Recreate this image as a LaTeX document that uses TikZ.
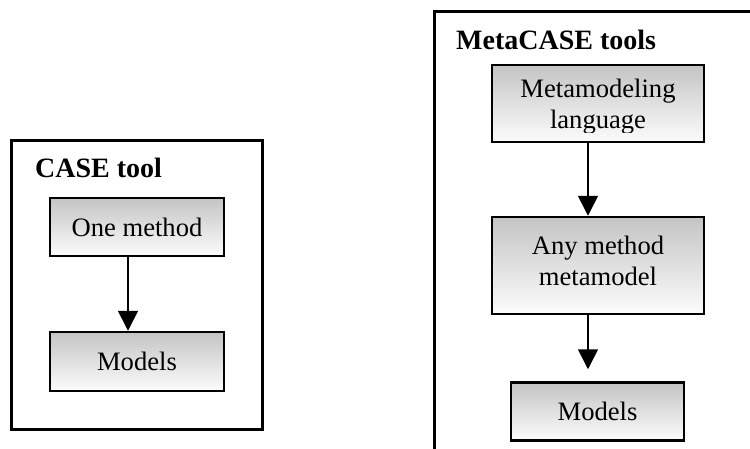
\documentclass[tikz,border=0pt]{standalone}
\usepackage{fontspec}
\setmainfont{Liberation Serif}
\usetikzlibrary{arrows.meta}
\definecolor{boxtop}{RGB}{196,196,196}
\definecolor{boxbot}{RGB}{252,252,252}
\begin{document}
\begin{tikzpicture}[x=1pt,y=-1pt,
  frame/.style={draw=black, line width=3pt, inner sep=0pt},
  box/.style={draw=black, line width=2.5pt, top color=boxtop, bottom color=boxbot, inner sep=0pt},
  txt/.style={font=\fontsize{26.6}{31}\selectfont, align=center, inner sep=0pt},
  title/.style={font=\fontsize{28}{32}\selectfont\bfseries, anchor=base west, inner sep=0pt},
  flow/.style={line width=1.6pt, -{Triangle[width=20pt,length=20pt]}},
]
\useasboundingbox (0,0) rectangle (750,448);
\clip (0,0) rectangle (750,448);
% frames
\node[frame, minimum width=251pt, minimum height=289pt] (caseframe) at (136.5,284.5) {};
\node[frame, minimum width=336pt, minimum height=459pt] (metaframe) at (602,240.5) {};
% titles
\node[title] (t1) at (35,177) {CASE tool};
\node[title] (t2) at (456,49) {MetaCASE tools};
% left column
\node[box, txt, minimum width=174pt, minimum height=58pt] (l1) at (137,227) {One method};
\node[box, txt, minimum width=174pt, minimum height=59pt] (l2) at (137,361.5) {Models};
\draw[flow] ([xshift=-9pt]l1.south) -- ([xshift=-9pt]l2.north);
% right column
\node[box, minimum width=212pt, minimum height=77pt] (r1) at (598,103.5) {};
\begin{scope}
  \clip (492,65) rectangle (704,132);
  \node[txt, anchor=base] (r1txt) at (598,128) {Metamodeling\\language};
\end{scope}
\node[box, minimum width=212pt, minimum height=97pt] (r2) at (598,265.5) {};
\node[txt, anchor=base] (r2txt) at (598,285) {Any method\\metamodel};
\node[box, txt, minimum width=173pt, minimum height=58pt] (r3) at (597.5,411.5) {Models};
\draw[flow] ([xshift=-10pt]r1.south) -- ([xshift=-10pt]r2.north);
\draw[flow, shorten >=12pt] ([xshift=-10pt]r2.south) -- ([xshift=-9.5pt]r3.north);
\end{tikzpicture}
\end{document}
